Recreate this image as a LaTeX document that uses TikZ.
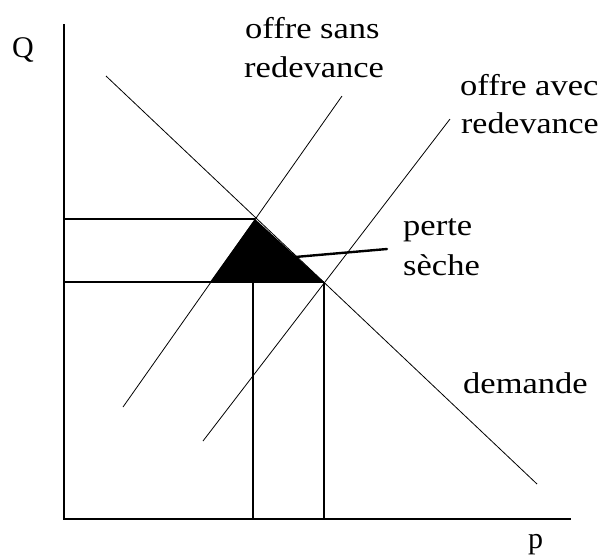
\documentclass[tikz,border=0pt]{standalone}
\usepackage{fontspec}
\setmainfont{Liberation Serif}
\usepackage{graphicx}
\begin{document}
\begin{tikzpicture}[x=1pt,y=-1pt,
  axis/.style={line width=1.3pt},
  guide/.style={line width=1.3pt},
  curve/.style={line width=0.8pt},
  pointer/.style={line width=2.4pt, line cap=round},
  lbl/.style={font=\fontsize{30}{36}\selectfont, inner sep=0pt, anchor=base west}]
\useasboundingbox (0,0) rectangle (604,558);
\fill[white] (0,0) rectangle (604,558);
% axes
\coordinate (O) at (64,519);
\coordinate (Ytop) at (64,24);
\coordinate (Xend) at (571,519);
\draw[axis] (Ytop) -- (O) -- (Xend);
% key points
\coordinate (E0) at (255,219);
\coordinate (L) at (210,282);
\coordinate (E1) at (324,282);
\coordinate (Qa) at (64,219);
\coordinate (Qb) at (64,282);
\coordinate (Pa) at (253,519);
\coordinate (Pa2) at (253,282);
\coordinate (Pb) at (324,519);
% deadweight loss triangle
\fill[black] (E0) -- (L) -- (E1) -- cycle;
% guides
\draw[guide] (Qa) -- (E0);
\draw[guide] (Qb) -- (E1);
\draw[guide] (Pa2) -- (Pa);
\draw[guide] (E1) -- (Pb);
% curves
\coordinate (D1) at (106,76);
\coordinate (D2) at (537,484);
\draw[curve] (D1) -- (D2);
\coordinate (S1) at (123,407);
\coordinate (S2) at (342,96);
\draw[curve] (S1) -- (S2);
\coordinate (T1) at (203,441);
\coordinate (T2) at (450,119);
\draw[curve] (T1) -- (T2);
% pointer
\coordinate (Ptr1) at (295,257);
\coordinate (Ptr2) at (387,249);
\draw[pointer] (Ptr1) -- (Ptr2);
% labels
\node[lbl] (q) at (12,57) {Q};
\node[lbl] (p) at (528,548) {p};
\node[lbl] (os) at (245,38) {\scalebox{1.15}[1]{offre sans}};
\node[lbl] (rs) at (244,77) {\scalebox{1.15}[1]{redevance}};
\node[lbl] (oa) at (460,95) {\scalebox{1.15}[1]{offre avec}};
\node[lbl] (ra) at (461,133) {\scalebox{1.13}[1]{redevance}};
\node[lbl] (pe) at (403,235) {\scalebox{1.15}[1]{perte}};
\node[lbl] (se) at (403,275) {\scalebox{1.15}[1]{sèche}};
\node[lbl] (de) at (463,393) {\scalebox{1.15}[1]{demande}};
\end{tikzpicture}
\end{document}
